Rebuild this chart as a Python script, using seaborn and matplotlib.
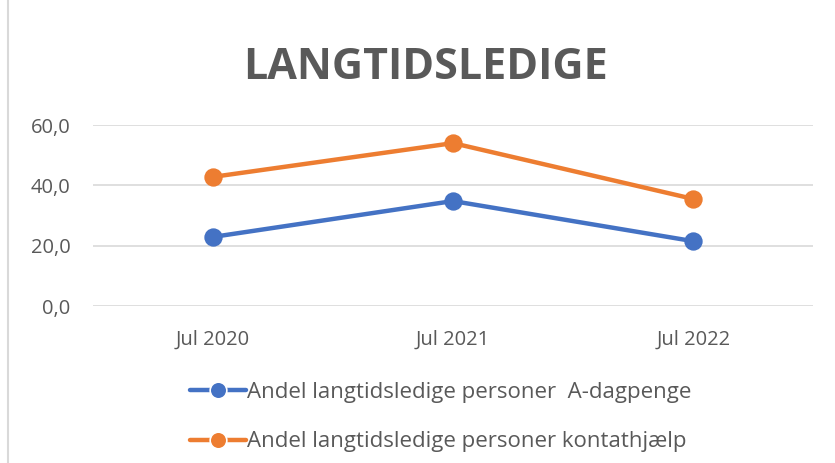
import matplotlib
matplotlib.use("Agg")
import matplotlib.pyplot as plt
import seaborn as sns
import pandas as pd
from matplotlib.ticker import FuncFormatter, MultipleLocator
from matplotlib.patches import Rectangle

categories = ["Jul 2020", "Jul 2021", "Jul 2022"]
a_dagpenge = [22.9, 34.8, 21.5]
kontanthjaelp = [42.8, 54.0, 35.5]
series_names = ["Andel langtidsledige personer  A-dagpenge",
                "Andel langtidsledige personer kontathjælp"]
colors = ["#4472C4", "#ED7D31"]
title = "LANGTIDSLEDIGE"

df = pd.DataFrame({
    "periode": categories * 2,
    "værdi": a_dagpenge + kontanthjaelp,
    "serie": [series_names[0]] * 3 + [series_names[1]] * 3,
})

sns.set_theme(style="white")
plt.rcParams["font.family"] = ["Open Sans", "DejaVu Sans"]

fig = plt.figure(figsize=(8.35, 4.63), dpi=100)
ax = fig.add_axes([0.111, 0.339, 0.863, 0.391])

sns.lineplot(data=df, x="periode", y="værdi", hue="serie", palette=colors,
             marker="o", markersize=12, linewidth=3.2, markeredgewidth=1.2,
             ax=ax, legend=True)
for line, c in zip(ax.lines, colors):
    line.set_markeredgecolor(c)

ax.set_xlim(-0.5, 2.5)
ax.set_ylim(0, 60)
ax.yaxis.set_major_locator(MultipleLocator(20))
ax.yaxis.set_major_formatter(FuncFormatter(lambda v, p: f"{v:.1f}".replace(".", ",")))
ax.grid(axis="y", color="#D9D9D9", linewidth=1.2)
ax.set_axisbelow(True)
for s in ax.spines.values():
    s.set_visible(False)
ax.set_xlabel("")
ax.set_ylabel("")
ax.tick_params(axis="both", length=0, labelsize=14.5, colors="#595959")
ax.tick_params(axis="y", pad=16)
ax.tick_params(axis="x", pad=17)

handles, labels = ax.get_legend_handles_labels()
ax.get_legend().remove()
leg = fig.legend(handles, labels, loc="upper left", bbox_to_anchor=(0.2275, 0.176),
                 ncol=1, frameon=False, fontsize=16, handlelength=2.5,
                 handletextpad=0.05, labelspacing=1.3, labelcolor="#595959",
                 borderpad=0, borderaxespad=0)

fig.text(0.51, 0.855, title, ha="center", va="center", fontsize=31,
         fontweight="bold", color="#595959")

fig.add_artist(Rectangle((0.01, -0.01), 1.1, 1.2, transform=fig.transFigure,
                         fill=False, edgecolor="#D9D9D9", linewidth=1.5))

fig.savefig("out.png", dpi=100)
